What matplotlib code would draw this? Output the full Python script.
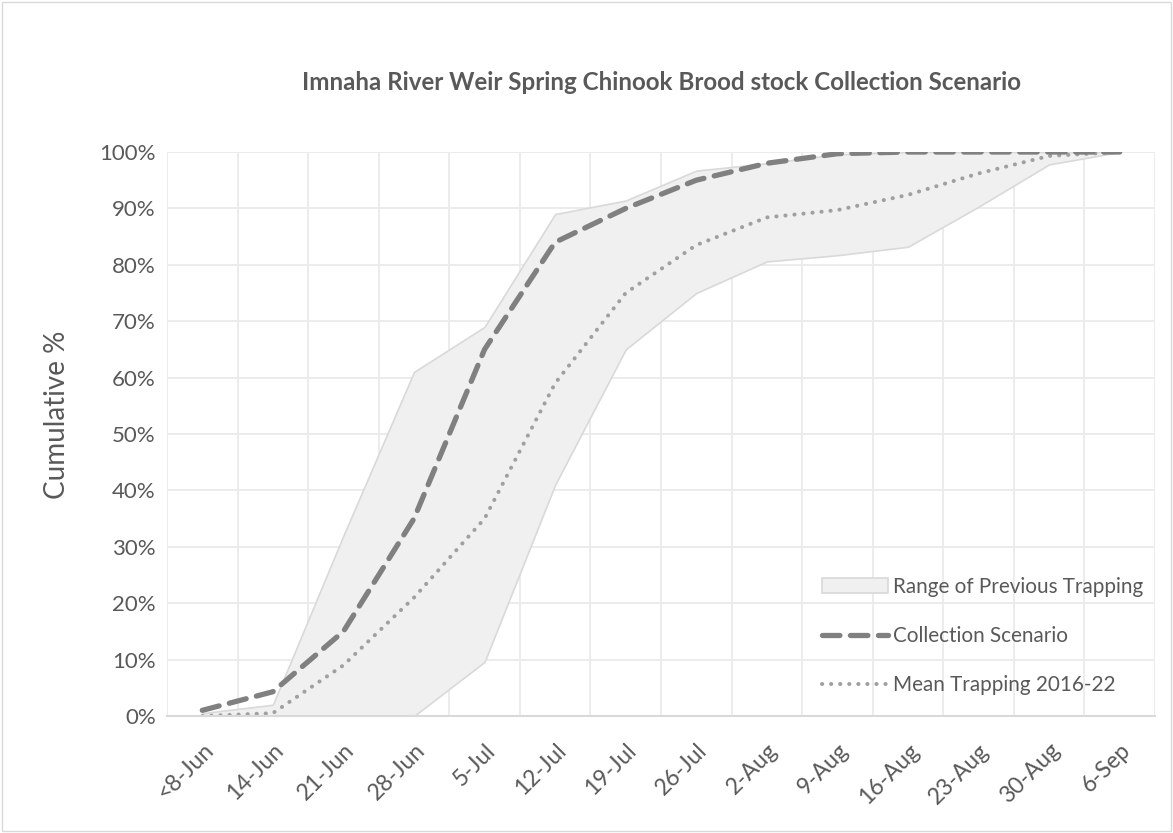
import numpy as np
import matplotlib.pyplot as plt
from matplotlib.patches import Rectangle

plt.rcParams['font.family'] = ['Lato', 'DejaVu Sans']

weeks = ['<8-Jun', '14-Jun', '21-Jun', '28-Jun', '5-Jul', '12-Jul', '19-Jul',
         '26-Jul', '2-Aug', '9-Aug', '16-Aug', '23-Aug', '30-Aug', '6-Sep']
range_low = [0, 0, 0, 0, 9.6, 41, 65, 75, 80.6, 81.7, 83.2, 90.3, 97.8, 100]
range_high = [0.5, 2, 32, 61, 69, 89, 91.4, 96.7, 98, 99.6, 100, 100, 100, 100]
collection = [1, 4.3, 15, 35, 65, 84, 90, 95, 98, 99.7, 100, 100, 100, 100]
mean_trap = [0, 0.5, 9, 21, 35, 59, 75, 83.5, 88.4, 89.7, 92.4, 96.2, 99.3, 100]

fig = plt.figure(figsize=(11.73, 8.33), dpi=100)
ax = fig.add_axes([167 / 1173, 1 - 716 / 833, 988 / 1173, 564 / 833])

x = np.arange(len(weeks))
ax.fill_between(x, range_low, range_high, facecolor='#f0f0f0', edgecolor='#d9d9d9',
                linewidth=1.2, label='Range of Previous Trapping', zorder=2)
ax.plot(x, collection, color='#808080', linewidth=3.8, linestyle=(0, (3.3, 2.0)),
        dash_capstyle='round', label='Collection Scenario', zorder=4)
ax.plot(x, mean_trap, color='#a0a0a0', linewidth=2.9, linestyle=(0, (0.05, 2.2)),
        dash_capstyle='round', label='Mean Trapping 2016-22', zorder=3)

ax.set_xlim(-0.5, len(weeks) - 0.5)
ax.set_ylim(0, 100)
ax.set_xticks(x)
ax.set_xticklabels(weeks, rotation=45, ha='right', rotation_mode='anchor')
ax.set_xticks(np.arange(-0.5, len(weeks), 1), minor=True)
ax.set_yticks(np.arange(0, 101, 10))
ax.set_yticklabels([f'{v}%' for v in range(0, 101, 10)])
ax.grid(which='minor', axis='x', color='#ebebeb', linewidth=1.3, zorder=0)
ax.grid(which='major', axis='y', color='#ebebeb', linewidth=1.3, zorder=0)
ax.set_axisbelow(True)
ax.tick_params(axis='both', which='both', length=0)
ax.tick_params(axis='x', labelsize=16.5, labelcolor='#595959', pad=17)
ax.tick_params(axis='y', labelsize=16, labelcolor='#595959', pad=8)
for s in ['top', 'right', 'left']:
    ax.spines[s].set_visible(False)
ax.spines['bottom'].set_color('#d9d9d9')
ax.spines['bottom'].set_linewidth(1.5)
ax.spines['bottom'].set_zorder(5)

fig.text(57 / 1173, 1 - 415 / 833, 'Cumulative %', rotation=90, ha='center', va='center',
         fontsize=20, color='#595959')

fig.text(661 / 1173, 1 - 82 / 833, 'Imnaha River Weir Spring Chinook Brood stock Collection Scenario',
         ha='center', va='center', fontsize=17.4, fontweight='bold', color='#595959')

leg = ax.legend(loc='center left', bbox_to_anchor=(0.663, 0.142), frameon=False,
                fontsize=14.9, labelcolor='#595959', labelspacing=1.4,
                handlelength=3.2, handletextpad=0.25, borderpad=0, borderaxespad=0)

fig.patches.append(Rectangle((0.002, 0.002), 0.996, 0.996, transform=fig.transFigure,
                             fill=False, edgecolor='#d9d9d9', linewidth=1))

fig.savefig('out.png', dpi=100, facecolor='white')
